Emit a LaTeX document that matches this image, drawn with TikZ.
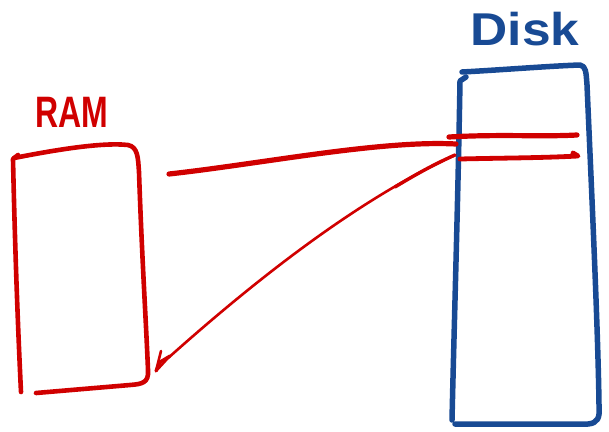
\documentclass[tikz,border=0pt]{standalone}
\usepackage{fontspec}
\setmainfont{Liberation Sans}
\definecolor{inkred}{RGB}{208,0,0}
\definecolor{inkblue}{RGB}{24,74,148}
\tikzset{
  ramline/.style={draw=inkred, line width=4.6pt, line cap=round, line join=round},
  diskline/.style={draw=inkblue, line width=5.5pt, line cap=round, line join=round},
  link/.style={draw=inkred, line width=5.2pt, line cap=round, line join=round},
  thinlink/.style={draw=inkred, line width=2.6pt, line cap=round, line join=round},
  lbl/.style={inner sep=0pt, font=\fontsize{40}{40}\selectfont\bfseries}
}
\begin{document}
\begin{tikzpicture}[x=1pt,y=-1pt]
\useasboundingbox (0,0) rectangle (609,431);
% labels
\node[lbl, text=inkred, xscale=0.8, yscale=1.1] (ramlabel) at (72,112) {RAM};
\node[lbl, text=inkblue, font=\fontsize{46}{46}\selectfont\bfseries, xscale=1.12] (disklabel) at (525,29) {Disk};
% RAM box
\draw[ramline] (18,155) -- (13,159) .. controls (15,250) and (18,330) .. (21,392);
\draw[ramline] (14,158) .. controls (50,151) and (100,142) .. (128,145)
  .. controls (138,147) and (138,158) .. (139,172)
  .. controls (142,260) and (146,320) .. (148,370)
  .. controls (149,383) and (142,384) .. (130,385) -- (36,393);
% Disk box
\draw[diskline] (466,77) -- (460,81) .. controls (458,200) and (454,330) .. (452,420);
\draw[diskline] (462,72) .. controls (500,70) and (550,66) .. (580,65)
  .. controls (586,66) and (586,72) .. (587,85)
  .. controls (592,200) and (598,330) .. (599,405)
  .. controls (600,418) and (598,423) .. (588,424) -- (455,424);
% stripes inside disk
\coordinate (s1a) at (449,137);
\coordinate (s1b) at (577,135);
\coordinate (s2a) at (460,159);
\coordinate (s2b) at (578,156);
\draw[link] (s1a) .. controls (500,134) and (540,137) .. (s1b);
\draw[link, line width=4.8pt] (s2a) .. controls (500,158) and (540,158) .. (s2b) -- (573,153);
% connectors
\coordinate (ramout) at (169,174);
\coordinate (diskin) at (456,144);
\draw[link] (ramout) .. controls (260,164) and (380,140) .. (diskin);
\coordinate (diskout) at (455,155);
\coordinate (tip) at (156,371);
\draw[thinlink, line width=3.4pt] (diskout) .. controls (430,166) and (410,178) .. (395,187);
\draw[thinlink] (diskout) .. controls (390,185) and (300,240) .. (167,359) -- (tip) -- (161,351);
\draw[thinlink, line width=3.2pt] (tip) -- (160,362) -- (170,356);
\end{tikzpicture}
\end{document}
